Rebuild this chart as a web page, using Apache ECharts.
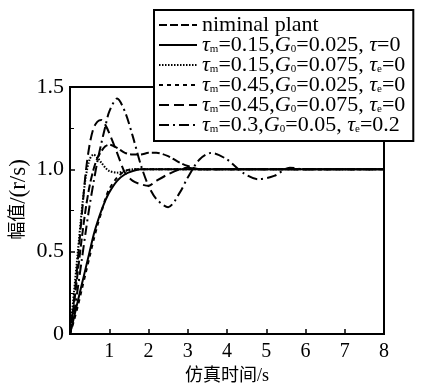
<!DOCTYPE html>
<html>
<head>
<meta charset="utf-8">
<script src="https://cdn.jsdelivr.net/npm/echarts@6/dist/echarts.min.js"></script>
<style>
    html, body { margin: 0; padding: 0; background: #fff; }
    #chart { width: 427px; height: 385px; }
</style>
</head>
<body>
<div id="chart"></div>
<script>
    // time axis (s)
    var times = [0, 0.1, 0.2, 0.3, 0.4, 0.5, 0.6, 0.7, 0.8, 0.9, 1.0, 1.2, 1.4, 1.6, 1.8,
                 2.0, 2.2, 2.5, 2.8, 3.0, 3.3, 3.6, 4.0, 4.4, 4.8, 5.2, 5.6, 6, 7, 8];

    // responses
    var nominal   = [0, 0.18, 0.38, 0.58, 0.76, 0.90, 1.00, 1.07, 1.11, 1.14, 1.15, 1.13, 1.10, 1.09, 1.09,
                     1.10, 1.10, 1.08, 1.04, 1.02, 1.00, 1.00, 1.00, 1.00, 1.00, 1.00, 1.00, 1.00, 1.00, 1.00];
    var solid015  = [0, 0.10, 0.20, 0.30, 0.40, 0.50, 0.60, 0.68, 0.75, 0.81, 0.86, 0.93, 0.97, 0.99, 1.00,
                     1.00, 1.00, 1.00, 1.00, 1.00, 1.00, 1.00, 1.00, 1.00, 1.00, 1.00, 1.00, 1.00, 1.00, 1.00];
    var dot015    = [0, 0.25, 0.50, 0.75, 0.95, 1.06, 1.09, 1.07, 1.04, 1.01, 0.99, 0.98, 0.99, 1.00, 1.00,
                     1.00, 1.00, 1.00, 1.00, 1.00, 1.00, 1.00, 1.00, 1.00, 1.00, 1.00, 1.00, 1.00, 1.00, 1.00];
    var sdash045  = [0, 0.08, 0.17, 0.27, 0.37, 0.47, 0.57, 0.66, 0.74, 0.82, 0.88, 0.95, 0.99, 1.00, 1.00,
                     1.00, 1.00, 1.00, 1.00, 1.00, 1.00, 1.00, 1.00, 1.00, 1.00, 1.00, 1.00, 1.00, 1.00, 1.00];
    var ldash045  = [0, 0.20, 0.45, 0.72, 0.98, 1.15, 1.25, 1.29, 1.30, 1.27, 1.22, 1.10, 0.98, 0.93, 0.91,
                     0.90, 0.93, 0.97, 1.00, 1.01, 1.00, 1.00, 1.00, 1.00, 1.00, 1.00, 1.00, 1.00, 1.00, 1.00];
    var dashdot03 = [0, 0.12, 0.28, 0.45, 0.62, 0.78, 0.92, 1.05, 1.16, 1.26, 1.35, 1.43, 1.35, 1.20, 1.03,
                     0.90, 0.82, 0.77, 0.86, 0.95, 1.06, 1.10, 1.06, 0.98, 0.94, 0.96, 1.01, 1.00, 1.00, 1.00];

    var xTicks = [0, 1, 2, 3, 4, 5, 6, 7, 8];
    var yTicks = [0, 0.5, 1.0, 1.5];

    var names = ['nominal', 'a', 'b', 'c', 'd', 'e'];
    var labels = {
        nominal: '{n|niminal plant}',
        a: '{i|τ}{s|m}{n|=0.15,}{i|G}{s|0}{n|=0.025, }{i|τ}{n|=0}',
        b: '{i|τ}{s|m}{n|=0.15,}{i|G}{s|0}{n|=0.075, }{i|τ}{s|e}{n|=0}',
        c: '{i|τ}{s|m}{n|=0.45,}{i|G}{s|0}{n|=0.025, }{i|τ}{s|e}{n|=0}',
        d: '{i|τ}{s|m}{n|=0.45,}{i|G}{s|0}{n|=0.075, }{i|τ}{s|e}{n|=0}',
        e: '{i|τ}{s|m}{n|=0.3,}{i|G}{s|0}{n|=0.05, }{i|τ}{s|e}{n|=0.2}'
    };
    var values = [nominal, solid015, dot015, sdash045, ldash045, dashdot03];
    var dashes = [[8, 3], 'solid', [1.5, 1.5], [4, 4], [10, 5], [10, 4, 2, 4]];

    function pairs(v) {
        var out = [];
        for (var i = 0; i < times.length; i++) out.push([times[i], v[i]]);
        return out;
    }

    var serif = '"Liberation Serif", "Noto Sans CJK SC", serif';

    var chart = echarts.init(document.getElementById('chart'));
    chart.setOption({
        animation: false,
        backgroundColor: '#fff',
        grid: {
            left: 70, right: 43, top: 87, bottom: 51,
            containLabel: false, outerBoundsMode: 'none',
            show: true, borderColor: '#000', borderWidth: 2
        },
        legend: {
            orient: 'vertical',
            left: 154, top: 10,
            padding: [4, 8, 5, 4],
            itemWidth: 38, itemHeight: 10, itemGap: -2,
            backgroundColor: '#fff',
            borderColor: '#000', borderWidth: 2,
            data: names,
            itemStyle: { opacity: 0 },
            formatter: function (name) { return labels[name]; },
            textStyle: {
                color: '#000',
                rich: {
                    n: { fontFamily: serif, fontSize: 22, color: '#000', lineHeight: 19 },
                    i: { fontFamily: serif, fontSize: 22, fontStyle: 'italic', color: '#000', lineHeight: 19 },
                    s: { fontFamily: serif, fontSize: 11, color: '#000', verticalAlign: 'bottom', lineHeight: 11, padding: [8, 0, 0, 0] }
                }
            }
        },
        xAxis: {
            type: 'value', min: xTicks[0], max: xTicks[xTicks.length - 1], interval: 1,
            name: '仿真时间/s', nameLocation: 'middle', nameGap: 33,
            nameTextStyle: { fontFamily: serif, fontSize: 18, color: '#000' },
            axisLine: { lineStyle: { color: '#000', width: 2 } },
            axisTick: { inside: true, length: 5, lineStyle: { color: '#000', width: 1.5 } },
            axisLabel: { showMinLabel: false, fontFamily: serif, fontSize: 20, color: '#000', margin: 8 },
            splitLine: { show: false }
        },
        yAxis: {
            type: 'value', min: yTicks[0], max: yTicks[yTicks.length - 1], interval: 0.5,
            name: '{c|幅值}{l|/(r/s)}', nameLocation: 'middle', nameGap: 40, nameRotate: 90,
            nameMoveOverlap: false,
            nameTextStyle: {
                color: '#000',
                padding: [0, 0, 0, 22],
                rich: {
                    c: { fontFamily: serif, fontSize: 18, color: '#000' },
                    l: { fontFamily: serif, fontSize: 23, color: '#000' }
                }
            },
            axisLine: { lineStyle: { color: '#000', width: 2 } },
            axisTick: { inside: true, length: 5, lineStyle: { color: '#000', width: 1.5 } },
            minorTick: { show: true, splitNumber: 2, length: 4, lineStyle: { color: '#000', width: 1 } },
            axisLabel: {
                fontFamily: serif, fontSize: 22, color: '#000', margin: 6,
                formatter: function (v) { return v === 0 ? '0' : v.toFixed(1); }
            },
            splitLine: { show: false }
        },
        series: names.map(function (n, k) {
            return {
                name: n,
                type: 'line',
                data: pairs(values[k]),
                smooth: 0.3,
                symbol: 'none',
                lineStyle: { color: '#000', width: 2, type: dashes[k] },
                itemStyle: { color: '#000' }
            };
        })
    });
</script>
</body>
</html>
